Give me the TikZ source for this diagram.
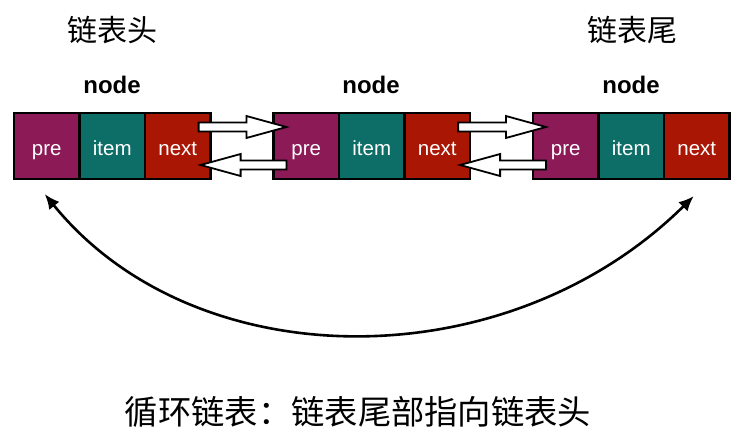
\documentclass[tikz,border=0pt]{standalone}
\usepackage{fontspec}
\setmainfont{Liberation Sans}
\newfontfamily\cjk{Noto Sans CJK SC}
\usetikzlibrary{calc,arrows.meta}
\definecolor{precol}{RGB}{140,26,86}
\definecolor{itemcol}{RGB}{12,110,102}
\definecolor{nextcol}{RGB}{170,22,4}
\tikzset{
  cell/.style={draw=black, line width=2.2pt, minimum width=65.5pt, minimum height=66pt,
    inner sep=0pt, text height=20pt, text depth=2pt, text=white, font=\fontsize{20.5pt}{24pt}\selectfont},
  precell/.style={cell, fill=precol},
  itemcell/.style={cell, fill=itemcol},
  nextcell/.style={cell, fill=nextcol},
  nodelabel/.style={font=\fontsize{24pt}{28pt}\selectfont\bfseries},
  cjklabel/.style={font=\cjk\fontsize{30pt}{34pt}\selectfont},
  captionlabel/.style={font=\cjk\fontsize{33.3pt}{38pt}\selectfont},
  blockarr/.style={draw=black, line width=1.8pt, fill=white, line join=miter},
  curvearr/.style={draw=black, line width=2.6pt, {Latex[length=15pt,width=13pt]}-{Latex[length=15pt,width=13pt]}}
}
\newcommand\BlkArrow[2]{%
  \path[blockarr] let \p1=(#1), \p2=(#2), \n1={ifthenelse(\x2>\x1,1,-1)} in
  (\x1,\y1+4.5pt) -- ({\x2-\n1*40pt},\y1+4.5pt) -- ({\x2-\n1*40pt},\y1+11pt) -- (\x2,\y1)
  -- ({\x2-\n1*40pt},\y1-11pt) -- ({\x2-\n1*40pt},\y1-4.5pt) -- (\x1,\y1-4.5pt) -- cycle;}
\begin{document}
\begin{tikzpicture}[x=1pt,y=-1pt]
\useasboundingbox (0,0) rectangle (745,447);
% nodes
\node[precell]  (n1a) at (46.75,146) {pre};
\node[itemcell] (n1b) at (112.25,146) {item};
\node[nextcell] (n1c) at (177.75,146) {next};
\node[precell]  (n2a) at (306.25,146) {pre};
\node[itemcell] (n2b) at (371.75,146) {item};
\node[nextcell] (n2c) at (437.25,146) {next};
\node[precell]  (n3a) at (565.75,146) {pre};
\node[itemcell] (n3b) at (631.25,146) {item};
\node[nextcell] (n3c) at (696.75,146) {next};
% labels
\node[nodelabel] (l1) at (112,85) {node};
\node[nodelabel] (l2) at (371,85) {node};
\node[nodelabel] (l3) at (631,85) {node};
\node[cjklabel] (head) at (112,30) {链表头};
\node[cjklabel] (tail) at (632,30) {链表尾};
\node[captionlabel] (cap) at (358,412) {循环链表：链表尾部指向链表头};
% block arrows
\coordinate (t1) at ($(n1c.east)+(-13,-19)$);
\coordinate (h1) at ($(n2a.west)+(14,-19)$);
\coordinate (t2) at ($(n2a.west)+(14,19)$);
\coordinate (h2) at ($(n1c.east)+(-11,19)$);
\coordinate (t3) at ($(n2c.east)+(-13,-19)$);
\coordinate (h3) at ($(n3a.west)+(14,-19)$);
\coordinate (t4) at ($(n3a.west)+(14,19)$);
\coordinate (h4) at ($(n2c.east)+(-11,19)$);
\BlkArrow{t1}{h1}
\BlkArrow{t2}{h2}
\BlkArrow{t3}{h3}
\BlkArrow{t4}{h4}
% circular link
\coordinate (lt) at ($(n1a.south)+(-2,14)$);
\coordinate (rt) at ($(n3c.south)+(-3,16)$);
\draw[curvearr] (lt) .. controls ($(lt)+(150,185)$) and ($(rt)+(-187,185)$) .. (rt);
\end{tikzpicture}
\end{document}
